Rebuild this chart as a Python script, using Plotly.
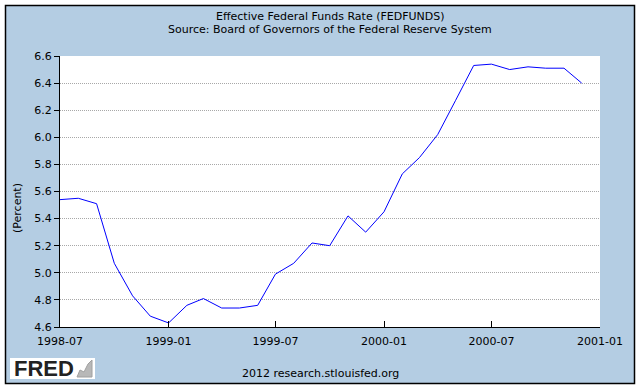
import plotly.graph_objects as go

dates = ["1998-07-01","1998-08-01","1998-09-01","1998-10-01","1998-11-01","1998-12-01",
         "1999-01-01","1999-02-01","1999-03-01","1999-04-01","1999-05-01","1999-06-01",
         "1999-07-01","1999-08-01","1999-09-01","1999-10-01","1999-11-01","1999-12-01",
         "2000-01-01","2000-02-01","2000-03-01","2000-04-01","2000-05-01","2000-06-01",
         "2000-07-01","2000-08-01","2000-09-01","2000-10-01","2000-11-01","2000-12-01"]
rates = [5.54,5.55,5.51,5.07,4.83,4.68,
         4.63,4.76,4.81,4.74,4.74,4.76,
         4.99,5.07,5.22,5.20,5.42,5.30,
         5.45,5.73,5.85,6.02,6.27,6.53,
         6.54,6.50,6.52,6.51,6.51,6.40]
x_tickvals = ["1998-07-01","1999-01-01","1999-07-01","2000-01-01","2000-07-01","2001-01-01"]
x_ticktext = ["1998-07","1999-01","1999-07","2000-01","2000-07","2001-01"]
y_ticks = [4.6,4.8,5.0,5.2,5.4,5.6,5.8,6.0,6.2,6.4,6.6]

W, H = 641, 389
L, R, T, B = 60, 41, 56, 62
pw, ph = W - L - R, H - T - B
def px(x): return (x - L) / pw
def py(y): return (H - B - y) / ph

BLUE_BG = "#B4CDE3"
FONT = "DejaVu Sans"

fig = go.Figure()
fig.add_trace(go.Scatter(x=dates, y=rates, mode="lines",
                         line=dict(color="#0000FF", width=1), hoverinfo="skip"))

fig.update_layout(
    width=W, height=H,
    margin=dict(l=L, r=R, t=T, b=B, pad=0),
    paper_bgcolor="white",
    plot_bgcolor="white",
    showlegend=False,
    font=dict(family=FONT, size=11, color="#000000"),
    xaxis=dict(range=["1998-07-01","2001-01-01"], tickmode="array",
               tickvals=x_tickvals, ticktext=x_ticktext,
               ticks="inside", ticklen=6, tickcolor="black", tickwidth=1,
               ticklabelstandoff=4,
               showline=True, linecolor="black", linewidth=1,
               showgrid=False, zeroline=False,
               tickfont=dict(family=FONT, size=11, color="black")),
    yaxis=dict(range=[4.6, 6.6], tickmode="array", tickvals=y_ticks,
               ticktext=[f"{v:.1f}" for v in y_ticks],
               ticks="outside", ticklen=5, tickcolor="black", tickwidth=1,
               showline=True, linecolor="black", linewidth=1,
               showgrid=True, gridcolor="#A8A8A8", griddash="1px,1px", gridwidth=1,
               zeroline=False,
               tickfont=dict(family=FONT, size=11, color="black")),
)

shapes = [
    dict(type="rect", xref="paper", yref="paper", layer="below",
         x0=px(5.5), x1=px(634.5), y0=py(383.5), y1=py(5.5),
         fillcolor=BLUE_BG, line=dict(color="black", width=1.5)),
    # white plotting area
    dict(type="rect", xref="paper", yref="paper", layer="below",
         x0=0, x1=1, y0=0, y1=1,
         fillcolor="white", line=dict(width=0)),
    # FRED logo box
    dict(type="rect", xref="paper", yref="paper", layer="above",
         x0=px(10), x1=px(95), y0=py(379), y1=py(358),
         fillcolor="white", line=dict(width=0)),
    dict(type="path", xref="paper", yref="paper", layer="above",
         path=f"M {px(77)},{py(377)} L {px(80)},{py(370)} L {px(84)},{py(372)} L {px(88)},{py(364)} L {px(92)},{py(360)} L {px(92)},{py(377)} Z",
         fillcolor="#B8B8B8", line=dict(color="#A0A0A0", width=1)),
]
fig.update_layout(shapes=shapes)

annotations = [
    dict(text="Effective Federal Funds Rate (FEDFUNDS)", x=px(330), y=py(16),
         xref="paper", yref="paper", showarrow=False, xanchor="center", yanchor="middle",
         font=dict(family=FONT, size=11, color="black")),
    dict(text="Source: Board of Governors of the Federal Reserve System", x=px(330), y=py(30),
         xref="paper", yref="paper", showarrow=False, xanchor="center", yanchor="middle",
         font=dict(family=FONT, size=11, color="black")),
    dict(text="(Percent)", x=px(17), y=py(208), textangle=-90,
         xref="paper", yref="paper", showarrow=False, xanchor="center", yanchor="middle",
         font=dict(family=FONT, size=11, color="black")),
    dict(text="2012 research.stlouisfed.org", x=px(320), y=py(373),
         xref="paper", yref="paper", showarrow=False, xanchor="center", yanchor="middle",
         font=dict(family=FONT, size=11, color="black")),
    dict(text="<b>FRED</b>", x=px(12), y=py(368.5),
         xref="paper", yref="paper", showarrow=False, xanchor="left", yanchor="middle",
         font=dict(family="Liberation Sans", size=22, color="#222222")),
]
fig.update_layout(annotations=annotations)

fig.write_html("out.html", config={"displayModeBar": False},
               post_script="document.body.style.margin='0';document.body.style.overflow='hidden';")
